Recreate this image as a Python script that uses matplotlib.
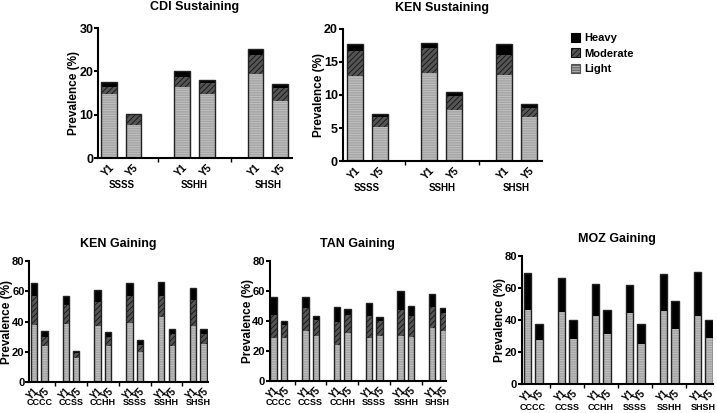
import numpy as np
import matplotlib.pyplot as plt
from matplotlib.patches import Patch

plt.rcParams['font.family'] = ['Liberation Sans', 'DejaVu Sans']
plt.rcParams['font.weight'] = 'bold'
plt.rcParams['axes.titleweight'] = 'bold'
plt.rcParams['axes.labelweight'] = 'bold'
plt.rcParams['hatch.linewidth'] = 0.6

# cumulative tops of each stack (light, light+moderate, total) per bar: Y1, Y5 per group
sust_groups = ['SSSS', 'SSHH', 'SHSH']
gain_groups = ['CCCC', 'CCSS', 'CCHH', 'SSSS', 'SSHH', 'SHSH']

cdi_light = [14.8, 7.7, 16.3, 14.9, 19.3, 13.1]
cdi_mod = [16.4, 10.0, 18.8, 17.3, 23.8, 16.1]
cdi_heavy = [17.5, 10.2, 20.2, 18.1, 25.1, 17.2]

kens_light = [12.9, 5.2, 13.3, 7.8, 13.0, 6.6]
kens_mod = [16.7, 6.6, 17.1, 9.8, 16.1, 8.1]
kens_heavy = [17.7, 7.1, 17.9, 10.4, 17.7, 8.6]

keng_light = [37.4, 23.8, 38.5, 15.9, 36.8, 23.6, 39.0, 19.6, 42.7, 23.8, 36.8, 25.3]
keng_mod = [56.6, 30.0, 50.7, 19.4, 52.9, 29.7, 56.6, 24.7, 57.0, 31.5, 54.0, 31.9]
keng_heavy = [65.4, 33.9, 56.6, 20.3, 60.6, 33.3, 65.4, 27.5, 66.1, 34.8, 62.1, 35.2]

tan_light = [28.7, 28.7, 33.1, 30.4, 24.4, 32.2, 28.7, 30.2, 29.8, 29.3, 35.3, 33.3]
tan_mod = [44.2, 37.1, 48.9, 40.9, 39.3, 44.2, 43.3, 39.8, 47.1, 43.3, 49.3, 45.3]
tan_heavy = [56.0, 40.0, 56.0, 43.3, 49.3, 47.8, 52.2, 42.7, 59.8, 49.8, 58.0, 48.9]

moz_light = [46.2, 27.4, 44.9, 27.9, 42.6, 31.2, 44.5, 24.9, 45.5, 34.5, 42.6, 28.5]
moz_mod = moz_light  # no moderate segment
moz_heavy = [69.6, 37.6, 66.5, 40.1, 62.8, 46.6, 61.7, 37.6, 69.0, 51.8, 70.1, 40.1]

years = ['Y1', 'Y5']

LIGHT = dict(facecolor='#a6a6a6', edgecolor='#c4c4c4', hatch='-------', linewidth=0)
MOD = dict(facecolor='#555555', edgecolor='#111111', hatch='//////', linewidth=0)
HEAVY = dict(facecolor='#000000', edgecolor='#000000', linewidth=0)


def panel(rect, title, groups, light, mod, heavy, ymax, step, width, xlim,
          lab_off, tick_fs, title_pad, ylab_x, ytick_fs):
    ax = fig.add_axes(rect)
    n = len(groups)
    x = np.array([3 * g + k for g in range(n) for k in range(2)], dtype=float)
    light = np.array(light)
    mod = np.array(mod)
    heavy = np.array(heavy)
    ax.bar(x, light, width, **LIGHT)
    ax.bar(x, mod - light, width, bottom=light, **MOD)
    ax.bar(x, heavy - mod, width, bottom=mod, **HEAVY)
    ax.bar(x, heavy, width, fill=False, edgecolor='#222222', linewidth=1.0)
    ax.set_xlim(*xlim)
    ax.set_ylim(0, ymax)
    ax.set_yticks(np.arange(0, ymax + 0.1, step))
    ax.set_xticks(x)
    ax.set_xticklabels(years * n, rotation=45, ha='right', rotation_mode='anchor',
                       fontsize=tick_fs)
    ax.set_xticks([3 * g + 2 for g in range(n - 1)], minor=True)
    ax.tick_params(axis='x', which='major', length=0, pad=3)
    ax.tick_params(axis='x', which='minor', length=3, width=1)
    ax.tick_params(axis='y', length=3, width=1.5, labelsize=ytick_fs, pad=0.5)
    for s in ['top', 'right']:
        ax.spines[s].set_visible(False)
    for s in ['left', 'bottom']:
        ax.spines[s].set_linewidth(1.5)
    ax.set_ylabel('Prevalence (%)', fontsize=8.5)
    ax.yaxis.set_label_coords(ylab_x, 0.5)
    ax.set_title(title, fontsize=9, pad=title_pad)
    for g, name in enumerate(groups):
        ax.annotate(name, xy=(3 * g + 0.5, 0), xycoords=('data', 'axes fraction'),
                    xytext=(0, lab_off), textcoords='offset points',
                    ha='center', va='center', fontsize=tick_fs - 0.5)
    return ax


fig = plt.figure(figsize=(7.17, 4.13), dpi=100)

panel([0.137, 0.617, 0.270, 0.315], 'CDI Sustaining', sust_groups,
      cdi_light, cdi_mod, cdi_heavy, 30, 10, 0.64, (-0.44, 7.48), -19.5, 7.5, 13, -0.093, 9)
panel([0.478, 0.610, 0.278, 0.320], 'KEN Sustaining', sust_groups,
      kens_light, kens_mod, kens_heavy, 20, 5, 0.64, (-0.48, 7.52), -19.5, 7.5, 13, -0.09, 9)
panel([0.041, 0.075, 0.249, 0.293], 'KEN Gaining', gain_groups,
      keng_light, keng_mod, keng_heavy, 80, 20, 0.6, (-0.42, 16.4), -15, 7, 10, -0.09, 8)
panel([0.376, 0.077, 0.246, 0.291], 'TAN Gaining', gain_groups,
      tan_light, tan_mod, tan_heavy, 80, 20, 0.6, (-0.38, 16.3), -15, 7, 10, -0.091, 8)
panel([0.728, 0.070, 0.266, 0.310], 'MOZ Gaining', gain_groups,
      moz_light, moz_mod, moz_heavy, 80, 20, 0.68, (-0.48, 16.34), -17, 7, 10, -0.084, 8)

handles = [Patch(**HEAVY), Patch(**MOD), Patch(**LIGHT)]
for h in handles:
    h.set_linewidth(0.8)
handles[2].set_edgecolor('#555555')
fig.legend(handles, ['Heavy', 'Moderate', 'Light'], loc='upper left',
           bbox_to_anchor=(0.782, 0.945), frameon=False, fontsize=8,
           handlelength=0.8, handleheight=0.9, handletextpad=0.4, labelspacing=0.45)

fig.savefig('out.png', dpi=100)
